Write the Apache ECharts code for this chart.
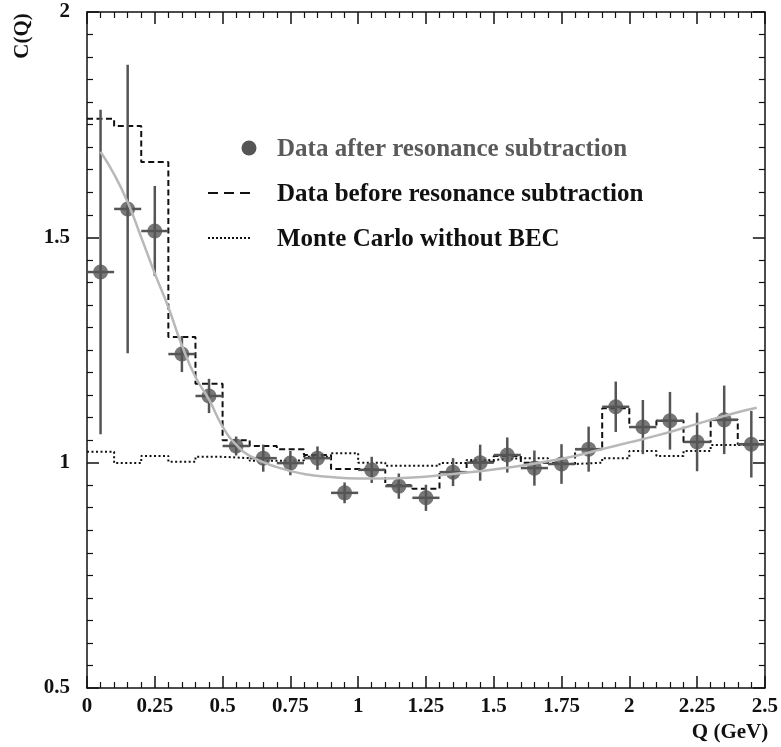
<!DOCTYPE html>
<html>
<head>
<meta charset="utf-8">
<script src="https://cdn.jsdelivr.net/npm/echarts@6/dist/echarts.min.js"></script>
<style>
    html, body { margin: 0; padding: 0; background: #fff; }
    #main { width: 781px; height: 747px; }
</style>
</head>
<body>
<div id="main"></div>
<script>
// bin centres (GeV)
var qCenters = [0.05, 0.15, 0.25, 0.35, 0.45, 0.55, 0.65, 0.75, 0.85, 0.95,
    1.05, 1.15, 1.25, 1.35, 1.45, 1.55, 1.65, 1.75, 1.85, 1.95,
    2.05, 2.15, 2.25, 2.35, 2.45];
// data after resonance subtraction + errors
var cAfter = [1.423, 1.563, 1.514, 1.241, 1.148, 1.037, 1.010, 0.999, 1.010, 0.933,
    0.984, 0.948, 0.922, 0.979, 1.000, 1.017, 0.988, 0.997, 1.030, 1.124,
    1.079, 1.093, 1.046, 1.095, 1.041];
var cErr = [0.36, 0.32, 0.10, 0.04, 0.038, 0.021, 0.03, 0.027, 0.026, 0.023,
    0.029, 0.028, 0.029, 0.031, 0.04, 0.039, 0.039, 0.044, 0.05, 0.056,
    0.06, 0.064, 0.065, 0.076, 0.074];
// data before resonance subtraction (histogram)
var cBefore = [1.763, 1.747, 1.667, 1.279, 1.175, 1.050, 1.037, 1.030, 1.017, 0.986,
    0.984, 0.950, 0.942, 0.979, 1.002, 1.015, 1.000, 0.997, 1.030, 1.121,
    1.079, 1.093, 1.046, 1.095, 1.041];
// Monte Carlo without BEC (histogram)
var cMC = [1.024, 0.999, 1.015, 1.002, 1.013, 1.010, 1.004, 1.005, 1.013, 1.021,
    1.000, 0.993, 0.993, 0.999, 1.006, 1.010, 1.010, 0.997, 1.000, 1.010,
    1.026, 1.015, 1.026, 1.039, 1.041];
// fit curve
var fitQ = [0.05, 0.1, 0.15, 0.2, 0.25, 0.3, 0.35, 0.4, 0.45, 0.5, 0.55, 0.6, 0.7, 0.8, 0.9,
    1.0, 1.1, 1.2, 1.3, 1.4, 1.5, 1.6, 1.7, 1.8, 1.9, 2.0, 2.1, 2.2, 2.3, 2.4, 2.47];
var fitC = [1.69, 1.64, 1.578, 1.50, 1.42, 1.345, 1.26, 1.19, 1.14, 1.08, 1.04, 1.015, 0.99, 0.975, 0.968,
    0.965, 0.965, 0.967, 0.972, 0.978, 0.985, 0.993, 1.003, 1.015, 1.03, 1.045, 1.06, 1.077, 1.095, 1.112, 1.122];

var legendNames = ['Data after resonance subtraction', 'Data before resonance subtraction', 'Monte Carlo without BEC'];

(function () {
    var myChart = echarts.init(document.getElementById('main'));
    var font = 'Liberation Serif';

    function stepData(vals) {
        var out = [];
        for (var i = 0; i < vals.length; i++) {
            out.push([qCenters[i] - 0.05, vals[i]]);
        }
        out.push([qCenters[qCenters.length - 1] + 0.05, vals[vals.length - 1]]);
        return out;
    }

    var pts = [], bars = [], fit = [];
    for (var i = 0; i < qCenters.length; i++) {
        pts.push([qCenters[i], cAfter[i]]);
        bars.push([qCenters[i], cAfter[i], cErr[i]]);
    }
    for (var j = 0; j < fitQ.length; j++) fit.push([fitQ[j], fitC[j]]);

    var tickStyle = { show: true, inside: true, length: 12, lineStyle: { color: '#111', width: 1.5 } };
    var minorStyle = { show: true, length: 6, lineStyle: { color: '#111', width: 1.2 } };
    var labelStyle = { fontFamily: font, fontWeight: 'bold', fontSize: 21, color: '#111' };

    myChart.setOption({
        backgroundColor: '#fff',
        animation: false,
        grid: { left: 87, top: 12, right: 15, bottom: 59 },
        xAxis: [
            {
                type: 'value', position: 'bottom', min: 0, max: 2.5, interval: 0.25,
                axisLine: { show: true, onZero: false, lineStyle: { color: '#111', width: 1.5 } },
                axisTick: tickStyle,
                minorTick: echarts.util.extend({ splitNumber: 5 }, minorStyle),
                splitLine: { show: false },
                axisLabel: echarts.util.extend({ margin: 8 }, labelStyle)
            },
            {
                type: 'value', position: 'top', min: 0, max: 2.5, interval: 0.25,
                axisLine: { show: true, onZero: false, lineStyle: { color: '#111', width: 1.5 } },
                axisTick: tickStyle,
                minorTick: echarts.util.extend({ splitNumber: 5 }, minorStyle),
                splitLine: { show: false },
                axisLabel: { show: false }
            }
        ],
        yAxis: [
            {
                type: 'value', position: 'left', min: 0.5, max: 2, interval: 0.5,
                axisLine: { show: true, onZero: false, lineStyle: { color: '#111', width: 1.5 } },
                axisTick: tickStyle,
                minorTick: echarts.util.extend({ splitNumber: 10 }, minorStyle),
                splitLine: { show: false },
                axisLabel: echarts.util.extend({ margin: 17 }, labelStyle)
            },
            {
                type: 'value', position: 'right', min: 0.5, max: 2, interval: 0.5,
                axisLine: { show: true, onZero: false, lineStyle: { color: '#111', width: 1.5 } },
                axisTick: tickStyle,
                minorTick: echarts.util.extend({ splitNumber: 10 }, minorStyle),
                splitLine: { show: false },
                axisLabel: { show: false }
            }
        ],
        series: [
            {
                name: legendNames[2], type: 'line', step: 'end', data: stepData(cMC),
                symbol: 'none', z: 2,
                lineStyle: { color: '#111', width: 2, type: [2, 2.5] }
            },
            {
                name: legendNames[1], type: 'line', step: 'end', data: stepData(cBefore),
                symbol: 'none', z: 3,
                lineStyle: { color: '#111', width: 2, type: [6, 3.5] }
            },
            {
                // error bars: vertical = stat. error, horizontal = bin width
                type: 'custom', z: 4,
                renderItem: function (params, api) {
                    var x = api.value(0), y = api.value(1), e = api.value(2);
                    var top = api.coord([x, y + e]);
                    var bot = api.coord([x, y - e]);
                    var l = api.coord([x - 0.05, y]);
                    var r = api.coord([x + 0.05, y]);
                    var st = { stroke: '#555', lineWidth: 2.5 };
                    return {
                        type: 'group',
                        children: [
                            { type: 'line', shape: { x1: top[0], y1: top[1], x2: bot[0], y2: bot[1] }, style: st },
                            { type: 'line', shape: { x1: l[0], y1: l[1], x2: r[0], y2: r[1] }, style: st }
                        ]
                    };
                },
                data: bars
            },
            {
                name: legendNames[0], type: 'scatter', data: pts, z: 5,
                symbol: 'circle', symbolSize: 15,
                itemStyle: { color: '#555' }
            },
            {
                type: 'line', data: fit, smooth: true, symbol: 'none', z: 6,
                lineStyle: { color: '#b8b8b8', width: 2.5 }
            }
        ],
        graphic: [
            { type: 'circle', shape: { cx: 249, cy: 148, r: 7.5 }, style: { fill: '#555' } },
            { type: 'line', shape: { x1: 208, y1: 193, x2: 250, y2: 193 }, style: { stroke: '#111', lineWidth: 2, lineDash: [10, 6] } },
            { type: 'line', shape: { x1: 208, y1: 238, x2: 250, y2: 238 }, style: { stroke: '#111', lineWidth: 2, lineDash: [2, 2] } },
            { type: 'text', left: 277, top: 137, style: { text: legendNames[0], font: 'bold 25px "Liberation Serif"', fill: '#5a5a5a' } },
            { type: 'text', left: 277, top: 182, style: { text: legendNames[1], font: 'bold 25px "Liberation Serif"', fill: '#111' } },
            { type: 'text', left: 277, top: 227, style: { text: legendNames[2], font: 'bold 25px "Liberation Serif"', fill: '#111' } },
            {
                type: 'text', x: 23, y: 36, rotation: Math.PI / 2,
                style: { text: 'C(Q)', font: 'bold 21px "Liberation Serif"', fill: '#111', align: 'center', verticalAlign: 'middle' }
            },
            {
                type: 'text', x: 730, y: 733,
                style: { text: 'Q (GeV)', font: 'bold 21px "Liberation Serif"', fill: '#111', align: 'center', verticalAlign: 'middle' }
            }
        ]
    });
})();
</script>
</body>
</html>
